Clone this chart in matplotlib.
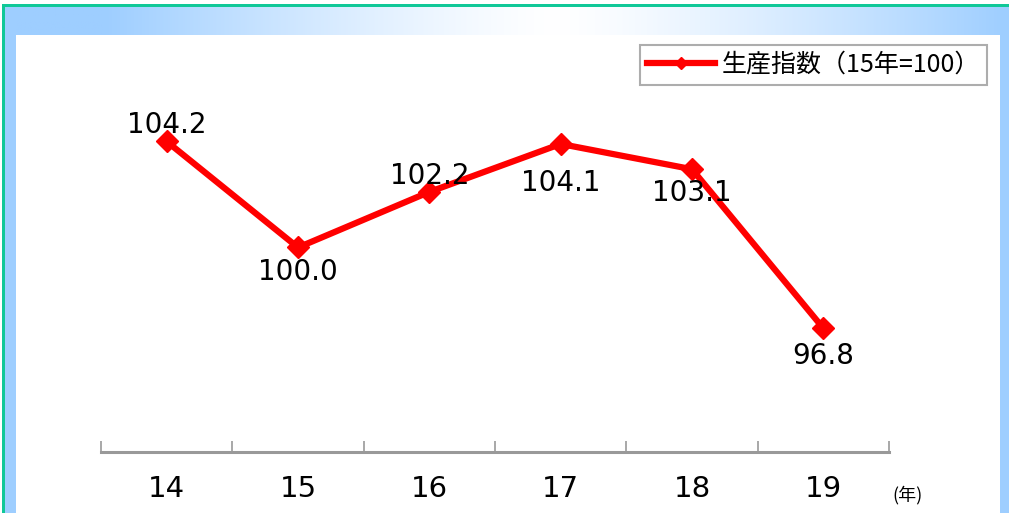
import numpy as np
import matplotlib.pyplot as plt
from matplotlib.patches import Rectangle
from matplotlib import font_manager

plt.rcParams['font.family'] = ['Noto Sans CJK JP', 'DejaVu Sans']

years = ['14', '15', '16', '17', '18', '19']
index_vals = [104.2, 100.0, 102.2, 104.1, 103.1, 96.8]
label_text = ['104.2', '100.0', '102.2', '104.1', '103.1', '96.8']
series_name = '生産指数（15年=100）'

# narrow font for the year labels if there is one
names = {f.name for f in font_manager.fontManager.ttflist}
narrow = 'Liberation Sans Narrow' if 'Liberation Sans Narrow' in names else 'DejaVu Sans'

W, H = 1009, 513
fig = plt.figure(figsize=(W / 100, H / 100), dpi=100)

# background frame
bg = fig.add_axes([0, 0, 1, 1])
bg.set_xlim(0, W)
bg.set_ylim(H, 0)
bg.axis('off')
blue = np.array([158, 206, 255]) / 255
xs = np.linspace(0, 1, 400)
t = np.clip(np.abs(xs - 0.55) / 0.45, 0, 1) ** 1.3
grad = (1 - t)[:, None] * np.ones(3) + t[:, None] * blue
bg.imshow(grad[None, :, :], extent=[4, W, 35, 7], aspect='auto', zorder=1)
bg.add_patch(Rectangle((4, 7), 12, H, color=blue, lw=0, zorder=1))
bg.add_patch(Rectangle((1000, 7), 9, H, color=blue, lw=0, zorder=1))
bg.add_patch(Rectangle((2, 4), W, 3, color='#10C898', lw=0, zorder=2))
bg.add_patch(Rectangle((2, 4), 2.5, H, color='#10C898', lw=0, zorder=2))

ax = fig.add_axes([101 / W, (H - 452) / H, 788 / W, 356 / H])
ax.set_facecolor('none')
x = np.arange(len(years))
ax.plot(x, index_vals, color='#FF0000', lw=4.5, marker='D', markersize=11,
        label=series_name, zorder=3)
ax.set_xlim(-0.5, 5.5)
ax.set_ylim(91.9, 106)

offsets = [16, -25, 16, -39, -24, -28]
for xi, v, s, off in zip(x, index_vals, label_text, offsets):
    ax.text(xi, v + off / 25.24, s, ha='center', va='center', fontsize=20,
            family=['DejaVu Sans'], zorder=4)

for s in ['top', 'right', 'left']:
    ax.spines[s].set_visible(False)
ax.spines['bottom'].set_color('#999999')
ax.spines['bottom'].set_linewidth(2.2)
ax.set_yticks([])
ax.set_xticks(np.arange(-0.5, 6, 1))
ax.set_xticklabels([])
ax.tick_params(axis='x', direction='in', length=8, width=1.2, color='#999999')
for xi, yl in zip(x, years):
    ax.text(xi, -0.104, yl, transform=ax.get_xaxis_transform(), ha='center',
            va='center', fontsize=21, family=[narrow])
ax.text(5.64, -0.12, '(年)', transform=ax.get_xaxis_transform(), ha='center',
        va='center', fontsize=13)

leg = fig.legend(loc='upper left', bbox_to_anchor=(640 / W, 1 - 45 / H),
                 borderaxespad=0, fontsize=18, frameon=True, fancybox=False,
                 borderpad=0.28, handlelength=2.7, handletextpad=0.3,
                 markerscale=0.55)
leg.get_frame().set_edgecolor('#999999')
leg.get_frame().set_linewidth(1.5)

fig.savefig('out.png', dpi=100)
